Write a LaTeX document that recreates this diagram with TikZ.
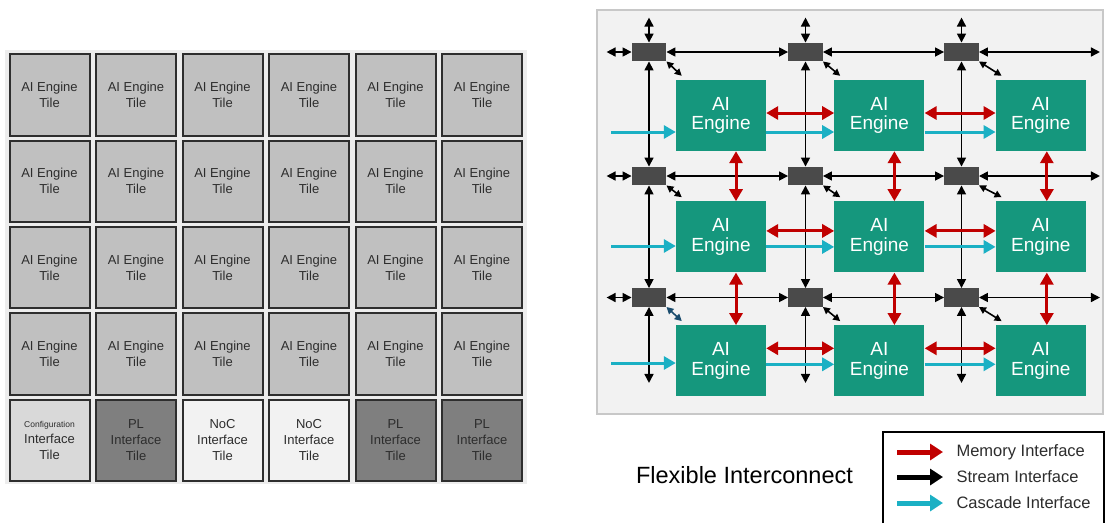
\documentclass[tikz,border=0pt]{standalone}
\usepackage{fontspec}
\setmainfont{Liberation Sans}
\usetikzlibrary{arrows.meta, positioning}
\definecolor{panelGray}{HTML}{EDEDED}
\definecolor{boxGray}{HTML}{F2F2F2}
\definecolor{boxEdge}{HTML}{C8C8C8}
\definecolor{tileGray}{HTML}{C0C0C0}
\definecolor{tileConfig}{HTML}{D9D9D9}
\definecolor{tilePL}{HTML}{7F7F7F}
\definecolor{tileNoC}{HTML}{F2F2F2}
\definecolor{tileEdge}{HTML}{2E2E2E}
\definecolor{textDark}{HTML}{2D2D2D}
\definecolor{engineTeal}{HTML}{15977D}
\definecolor{switchGray}{HTML}{4A4A4A}
\definecolor{memRed}{HTML}{C00000}
\definecolor{cascadeCyan}{HTML}{1BB0C4}
\definecolor{diagBlue}{HTML}{1B4D6E}

\begin{document}
\begin{tikzpicture}[x=1pt, y=-1pt,
    tile/.style={rectangle, draw=tileEdge, line width=2pt, fill=tileGray,
      minimum width=80pt, minimum height=81.4pt, inner sep=0pt,
      align=center, text=textDark, font=\fontsize{13}{16}\selectfont},
    engine/.style={rectangle, fill=engineTeal, minimum width=90pt,
      minimum height=71pt, inner sep=0pt, align=center, text=white,
      font=\fontsize{19}{19.5}\selectfont},
    switchbox/.style={rectangle, fill=switchGray, minimum width=34.5pt,
      minimum height=18.5pt, inner sep=0pt},
    stream/.style={line width=1.6pt,
      {Triangle[length=9pt,width=9pt]}-{Triangle[length=9pt,width=9pt]}},
    diag/.style={line width=1.6pt,
      {Triangle[length=7pt,width=7pt]}-{Triangle[length=7pt,width=7pt]}},
    memory/.style={draw=memRed, line width=3pt,
      {Triangle[length=12pt,width=13pt]}-{Triangle[length=12pt,width=13pt]}},
    cascade/.style={draw=cascadeCyan, line width=3pt,
      -{Triangle[length=12pt,width=13pt]}},
    legline/.style={line width=5pt, shorten >=10pt,
      -{Triangle[length=13pt,width=16pt]}},
    legtext/.style={anchor=west, text=textDark,
      font=\fontsize{16.5}{18}\selectfont},
    node distance=2.9pt and 4.5pt
  ]
  \useasboundingbox[fill=white] (0,0) rectangle (1105,523);

  % tile array
  \fill[panelGray] (5,50) rectangle (527,484);
  \node[tile] (t11) at (49.5,95) {AI Engine\\Tile};
  \node[tile, right=of t11] (t12) {AI Engine\\Tile};
  \node[tile, right=of t12] (t13) {AI Engine\\Tile};
  \node[tile, right=of t13] (t14) {AI Engine\\Tile};
  \node[tile, right=of t14] (t15) {AI Engine\\Tile};
  \node[tile, right=of t15] (t16) {AI Engine\\Tile};
  \node[tile, below=of t11] (t21) {AI Engine\\Tile};
  \node[tile, right=of t21] (t22) {AI Engine\\Tile};
  \node[tile, right=of t22] (t23) {AI Engine\\Tile};
  \node[tile, right=of t23] (t24) {AI Engine\\Tile};
  \node[tile, right=of t24] (t25) {AI Engine\\Tile};
  \node[tile, right=of t25] (t26) {AI Engine\\Tile};
  \node[tile, below=of t21] (t31) {AI Engine\\Tile};
  \node[tile, right=of t31] (t32) {AI Engine\\Tile};
  \node[tile, right=of t32] (t33) {AI Engine\\Tile};
  \node[tile, right=of t33] (t34) {AI Engine\\Tile};
  \node[tile, right=of t34] (t35) {AI Engine\\Tile};
  \node[tile, right=of t35] (t36) {AI Engine\\Tile};
  \node[tile, below=of t31] (t41) {AI Engine\\Tile};
  \node[tile, right=of t41] (t42) {AI Engine\\Tile};
  \node[tile, right=of t42] (t43) {AI Engine\\Tile};
  \node[tile, right=of t43] (t44) {AI Engine\\Tile};
  \node[tile, right=of t44] (t45) {AI Engine\\Tile};
  \node[tile, right=of t45] (t46) {AI Engine\\Tile};
  \node[tile, below=of t41, fill=tileConfig]
    (t51) {{\fontsize{8.5}{10}\selectfont Configuration}\\Interface\\Tile};
  \node[tile, right=of t51, fill=tilePL] (t52) {PL\\Interface\\Tile};
  \node[tile, right=of t52, fill=tileNoC] (t53) {NoC\\Interface\\Tile};
  \node[tile, right=of t53, fill=tileNoC] (t54) {NoC\\Interface\\Tile};
  \node[tile, right=of t54, fill=tilePL] (t55) {PL\\Interface\\Tile};
  \node[tile, right=of t55, fill=tilePL] (t56) {PL\\Interface\\Tile};

  % interconnect
  \draw[boxEdge, fill=boxGray, line width=1.5pt] (597,10) rectangle (1103,414);
  \node[engine] (e11) at (721,115.5) {AI\\Engine};
  \node[engine, right=68pt of e11] (e12) {AI\\Engine};
  \node[engine, right=71pt of e12] (e13) {AI\\Engine};
  \node[engine, below=50pt of e11] (e21) {AI\\Engine};
  \node[engine, below=50pt of e12] (e22) {AI\\Engine};
  \node[engine, below=50pt of e13] (e23) {AI\\Engine};
  \node[engine, below=52.5pt of e21] (e31) {AI\\Engine};
  \node[engine, below=52.5pt of e22] (e32) {AI\\Engine};
  \node[engine, below=52.5pt of e23] (e33) {AI\\Engine};

  \node[switchbox] (s11) at (649,52) {};
  \node[switchbox] (s12) at (805.5,52) {};
  \node[switchbox] (s13) at (961.5,52) {};
  \node[switchbox] (s21) at (649,176) {};
  \node[switchbox] (s22) at (805.5,176) {};
  \node[switchbox] (s23) at (961.5,176) {};
  \node[switchbox] (s31) at (649,297.5) {};
  \node[switchbox] (s32) at (805.5,297.5) {};
  \node[switchbox] (s33) at (961.5,297.5) {};

  \coordinate[above=25pt of s11.north] (n1);
  \coordinate[above=25pt of s12.north] (n2);
  \coordinate[above=25pt of s13.north] (n3);
  \coordinate[left=25pt of s11.west] (w1);
  \coordinate[left=25pt of s21.west] (w2);
  \coordinate[left=25pt of s31.west] (w3);
  \coordinate[right=121pt of s13.east] (r1);
  \coordinate[right=121pt of s23.east] (r2);
  \coordinate[right=121pt of s33.east] (r3);
  \coordinate[below=76pt of s31.south] (b1);
  \coordinate[below=76pt of s32.south] (b2);
  \coordinate[below=76pt of s33.south] (b3);

  \draw[stream] (n1) -- (s11.north);
  \draw[stream] (n2) -- (s12.north);
  \draw[stream] (n3) -- (s13.north);
  \draw[stream] (w1) -- (s11.west);
  \draw[stream] (w2) -- (s21.west);
  \draw[stream] (w3) -- (s31.west);
  \draw[stream] (s11.east) -- (s12.west);
  \draw[stream] (s12.east) -- (s13.west);
  \draw[stream] (s13.east) -- (r1);
  \draw[stream] (s21.east) -- (s22.west);
  \draw[stream] (s22.east) -- (s23.west);
  \draw[stream] (s23.east) -- (r2);
  \draw[stream] (s31.east) -- (s32.west);
  \draw[stream] (s32.east) -- (s33.west);
  \draw[stream] (s33.east) -- (r3);
  \draw[stream] (s11.south) -- (s21.north);
  \draw[stream] (s12.south) -- (s22.north);
  \draw[stream] (s13.south) -- (s23.north);
  \draw[stream] (s21.south) -- (s31.north);
  \draw[stream] (s22.south) -- (s32.north);
  \draw[stream] (s23.south) -- (s33.north);
  \draw[stream] (s31.south) -- (b1);
  \draw[stream] (s32.south) -- (b2);
  \draw[stream] (s33.south) -- (b3);

  \draw[diag] (s11.south east) -- ([xshift=6pt,yshift=4pt]e11.north west);
  \draw[diag] (s12.south east) -- ([xshift=6pt,yshift=4pt]e12.north west);
  \draw[diag] (s13.south east) -- ([xshift=6pt,yshift=4pt]e13.north west);
  \draw[diag] (s21.south east) -- ([xshift=6pt,yshift=4pt]e21.north west);
  \draw[diag] (s22.south east) -- ([xshift=6pt,yshift=4pt]e22.north west);
  \draw[diag] (s23.south east) -- ([xshift=6pt,yshift=4pt]e23.north west);
  \draw[diag, diagBlue] (s31.south east) -- ([xshift=6pt,yshift=4pt]e31.north west);
  \draw[diag] (s32.south east) -- ([xshift=6pt,yshift=4pt]e32.north west);
  \draw[diag] (s33.south east) -- ([xshift=6pt,yshift=4pt]e33.north west);

  \draw[memory] ([yshift=2.5pt]e11.east) -- ([yshift=2.5pt]e12.west);
  \draw[memory] ([yshift=2.5pt]e12.east) -- ([yshift=2.5pt]e13.west);
  \draw[memory] ([yshift=6pt]e21.east) -- ([yshift=6pt]e22.west);
  \draw[memory] ([yshift=6pt]e22.east) -- ([yshift=6pt]e23.west);
  \draw[memory] ([yshift=12.5pt]e31.east) -- ([yshift=12.5pt]e32.west);
  \draw[memory] ([yshift=12.5pt]e32.east) -- ([yshift=12.5pt]e33.west);
  \draw[memory] ([xshift=15pt]e11.south) -- ([xshift=15pt]e21.north);
  \draw[memory] ([xshift=15pt]e12.south) -- ([xshift=15pt]e22.north);
  \draw[memory] ([xshift=6pt]e13.south) -- ([xshift=6pt]e23.north);
  \draw[memory] ([xshift=15pt]e21.south) -- ([xshift=15pt]e31.north);
  \draw[memory] ([xshift=15pt]e22.south) -- ([xshift=15pt]e32.north);
  \draw[memory] ([xshift=6pt]e23.south) -- ([xshift=6pt]e33.north);

  \coordinate (c1) at (611,132);
  \coordinate (c2) at (611,246);
  \coordinate (c3) at (611,363);
  \draw[cascade] (c1) -- (c1 -| e11.west);
  \draw[cascade] ([yshift=-16.5pt]e11.east) -- ([yshift=-16.5pt]e12.west);
  \draw[cascade] ([yshift=-16.5pt]e12.east) -- ([yshift=-16.5pt]e13.west);
  \draw[cascade] (c2) -- (c2 -| e21.west);
  \draw[cascade] ([yshift=-10pt]e21.east) -- ([yshift=-10pt]e22.west);
  \draw[cascade] ([yshift=-10pt]e22.east) -- ([yshift=-10pt]e23.west);
  \draw[cascade] (c3) -- (c3 -| e31.west);
  \draw[cascade] ([yshift=-3.5pt]e31.east) -- ([yshift=-3.5pt]e32.west);
  \draw[cascade] ([yshift=-3.5pt]e32.east) -- ([yshift=-3.5pt]e33.west);

  % legend
  \node[text=black, font=\fontsize{23.5}{26}\selectfont] (title) at (744.5,475) {Flexible Interconnect};
  \draw[line width=1.5pt] (883,523) -- (883,432) -- (1104,432) -- (1104,523);
  \node[legtext] (tm) at (953,452) {Memory Interface};
  \node[legtext] (ts) at (953,477) {Stream Interface};
  \node[legtext] (tc) at (953,503) {Cascade Interface};
  \coordinate (lm) at (897,452);
  \coordinate (ls) at (897,477);
  \coordinate (lc) at (897,503);
  \draw[legline, memRed] (lm) -- (lm -| tm.west);
  \draw[legline, black] (ls) -- (ls -| ts.west);
  \draw[legline, cascadeCyan] (lc) -- (lc -| tc.west);
\end{tikzpicture}
\end{document}
